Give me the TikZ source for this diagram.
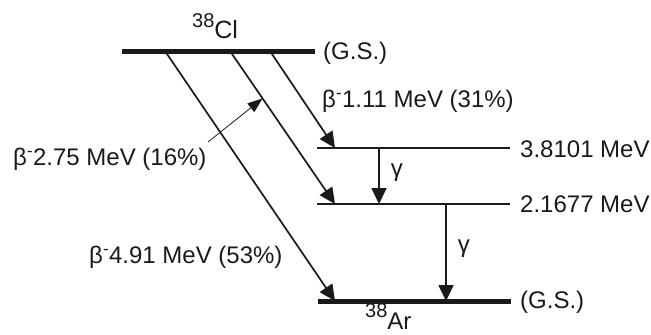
\documentclass[tikz,border=0pt]{standalone}
\usepackage{fontspec}
\setmainfont{Liberation Sans}
\usetikzlibrary{arrows.meta,calc}
\definecolor{schemeblack}{HTML}{1A1A1A}

\begin{document}
\begin{tikzpicture}[x=1bp,y=-1bp,
  every node/.style={inner sep=0pt,text=schemeblack,font=\fontsize{24bp}{28bp}\selectfont},
  gslevel/.style={line width=5bp,schemeblack},
  exlevel/.style={line width=2.5bp,schemeblack},
  decay/.style={line width=1.7bp,schemeblack,-{Triangle[length=16bp,width=15bp]}},
  pointer/.style={line width=0.8bp,schemeblack,-{Triangle[length=15bp,width=11bp]}}]
  \useasboundingbox (0,0) rectangle (651,334);
  % levels
  \coordinate (clL) at (122,51);  \coordinate (clR) at (315,51);
  \coordinate (e1L) at (317,148); \coordinate (e1R) at (510,148);
  \coordinate (e2L) at (317,204); \coordinate (e2R) at (510,204);
  \coordinate (arL) at (318,301); \coordinate (arR) at (511,301);
  \draw[gslevel] (clL) -- (clR);
  \draw[exlevel] (e1L) -- (e1R);
  \draw[exlevel] (e2L) -- (e2R);
  \draw[gslevel] (arL) -- (arR);
  \node[anchor=base west] (clgs) at (323,59) {(G.S.)};
  \node[anchor=base west] (e1lab) at (520,157) {3.8101 MeV};
  \node[anchor=base west] (e2lab) at (520,212) {2.1677 MeV};
  \node[anchor=base west] (args) at (520,308) {(G.S.)};
  \node[anchor=base west] (cl) at (192,38) {\raisebox{11bp}{\fontsize{20bp}{20bp}\selectfont 38}\fontsize{25bp}{25bp}\selectfont Cl};
  \node[anchor=base west] (ar) at (365,329) {\raisebox{12bp}{\fontsize{20bp}{20bp}\selectfont 38}\fontsize{24bp}{24bp}\selectfont Ar};
  % beta branches
  \coordinate (clA) at (165,51); \coordinate (clB) at (230,51); \coordinate (clC) at (270,51);
  \coordinate (e1A) at (335,148); \coordinate (e2A) at (335,204); \coordinate (arA) at (335,301);
  \draw[decay] (clC) -- (e1A);
  \draw[decay] (clB) -- (e2A);
  \draw[decay] (clA) -- (arA);
  \node[anchor=base west] (b111) at (322,107) {β\textsuperscript{-}1.11 MeV (31\%)};
  \node[anchor=base west] (b275) at (13,165) {β\textsuperscript{-}2.75 MeV (16\%)};
  \node[anchor=base west] (b491) at (89,263) {β\textsuperscript{-}4.91 MeV (53\%)};
  \path (clB) -- (e2A) coordinate[pos=0.31] (hit);
  \coordinate (ptr) at (208,142);
  \draw[pointer] (ptr) -- (hit);
  % gamma transitions
  \coordinate (g1s) at (379,148); \coordinate (g1e) at (379,204);
  \coordinate (g2s) at (446,204); \coordinate (g2e) at (446,301);
  \draw[decay] (g1s) -- (g1e) node[midway,anchor=base west,xshift=11bp] (gam1) {γ};
  \draw[decay] (g2s) -- (g2e) node[midway,anchor=base west,xshift=11bp] (gam2) {γ};
\end{tikzpicture}
\end{document}
